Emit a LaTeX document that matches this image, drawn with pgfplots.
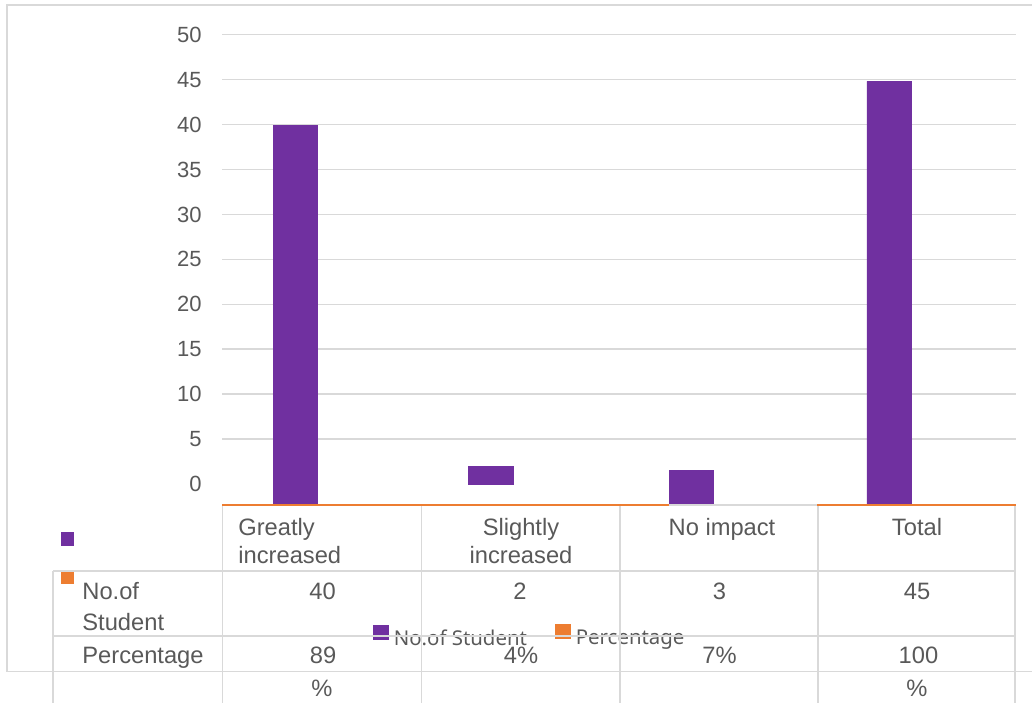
\documentclass[border=0pt]{standalone}
\usepackage{fontspec}
\setmainfont{Liberation Sans}
\newfontfamily\legendfont{Noto Sans}
\usepackage{pgfplots}
\pgfplotsset{compat=1.18}

\definecolor{barpurple}{HTML}{7030A0}
\definecolor{pctorange}{HTML}{ED7D31}
\definecolor{gridgray}{HTML}{D9D9D9}
\definecolor{textgray}{HTML}{595959}
\newcommand\tablefont{\fontsize{11.85}{14}\selectfont}

\pgfplotsset{
  sqlegend/.style={legend image code/.code={\fill[##1] (0pt,0pt) rectangle (7.5pt,7pt);}},
  purplebar/.style={ybar, bar width=22.25pt, bar shift=0pt,
    fill=barpurple, draw=barpurple, line width=0.2pt},
}

\begin{document}
\begin{tikzpicture}
\useasboundingbox (0pt,0pt) rectangle (516pt,-351pt);

\begin{axis}[
    at={(111pt,-252.35pt)}, anchor=south west,
    scale only axis, width=397pt, height=235pt,
    xmin=-0.5, xmax=3.5,
    ymin=-2.3, ymax=50,
    xtick=\empty,
    ytick={5,10,...,50},
    extra y ticks={0}, extra y tick style={grid=none},
    ymajorgrids,
    grid style={line width=0.75pt, gridgray},
    axis line style={draw=none},
    major tick length=0pt,
    tick label style={font=\fontsize{11}{13}\selectfont, text=textgray},
    yticklabel style={inner sep=0pt, xshift=-10pt},
    /pgf/number format/assume math mode=true,
    legend columns=2,
    legend style={at={(0.3866,-0.28)}, anchor=center,
      draw=none, fill=none, inner sep=0pt,
      font=\legendfont\fontsize{10.2}{12}\selectfont, text=textgray,
      nodes={inner sep=0pt},
      column sep=2.5pt,
      /tikz/every even column/.append style={column sep=14pt}},
  ]
  % No.of Student bars, as drawn in the picture
  \addplot[purplebar, sqlegend] coordinates {
    (-0.131,39.95) (0.854,2) (1.864,1.55) (2.861,44.8)};
  \addlegendentry{No.of Student}
  \addlegendimage{sqlegend, fill=pctorange, draw=pctorange}
  \addlegendentry{Percentage}
  % part of the bars below zero, down to the axis line
  \addplot[purplebar, forget plot] coordinates {
    (-0.131,-2.3) (1.864,-2.3) (2.861,-2.3)};
\end{axis}

\begin{scope}[x=0.5pt, y=-0.5pt]
  % chart frame and data table lines
  \begin{scope}[line width=0.75pt, draw=gridgray]
    \draw (1040,5) -- (7,5) -- (7,671.5) -- (1040,671.5);
    \draw (222.5,505) -- (1015,505);
    \foreach \x in {222.5,421.5,620,818,1015}
      \draw (\x,505) -- (\x,710);
    \draw (53,571) -- (53,710);
    \draw (53,571) -- (1015,571);
    \draw (53,636) -- (1015,636);
  \end{scope}
  \draw[pctorange, line width=1pt] (222,504.7) -- (669,504.7) (817,504.7) -- (1016,504.7);

  % legend keys of the table
  \fill[barpurple] (61,532) rectangle (74,546);
  \fill[pctorange] (61,572) rectangle (74,584);

  \begin{scope}[every node/.style={inner sep=0pt, text=textgray, font=\tablefont}]
    \node[anchor=base west] at (238,535) {Greatly};
    \node[anchor=base west] at (238,563) {increased};
    \node[anchor=base] at (521,535) {Slightly};
    \node[anchor=base] at (521,563) {increased};
    \node[anchor=base] at (722,535) {No impact};
    \node[anchor=base] at (917,535) {Total};

    \node[anchor=base west] at (82,599) {No.of};
    \node[anchor=base west] at (82,630) {Student};
    \node[anchor=base] at (322.5,599) {40};
    \node[anchor=base] at (520,599) {2};
    \node[anchor=base] at (719.5,599) {3};
    \node[anchor=base] at (917,599) {45};

    \node[anchor=base west] at (82,663) {Percentage};
    \node[anchor=base] at (323,663) {89};
    \node[anchor=base] at (521,663) {4\%};
    \node[anchor=base] at (719.5,663) {7\%};
    \node[anchor=base] at (918.5,663) {100};

    \node[anchor=base] at (322,696) {\%};
    \node[anchor=base] at (917,696) {\%};
  \end{scope}
\end{scope}
\end{tikzpicture}
\end{document}
